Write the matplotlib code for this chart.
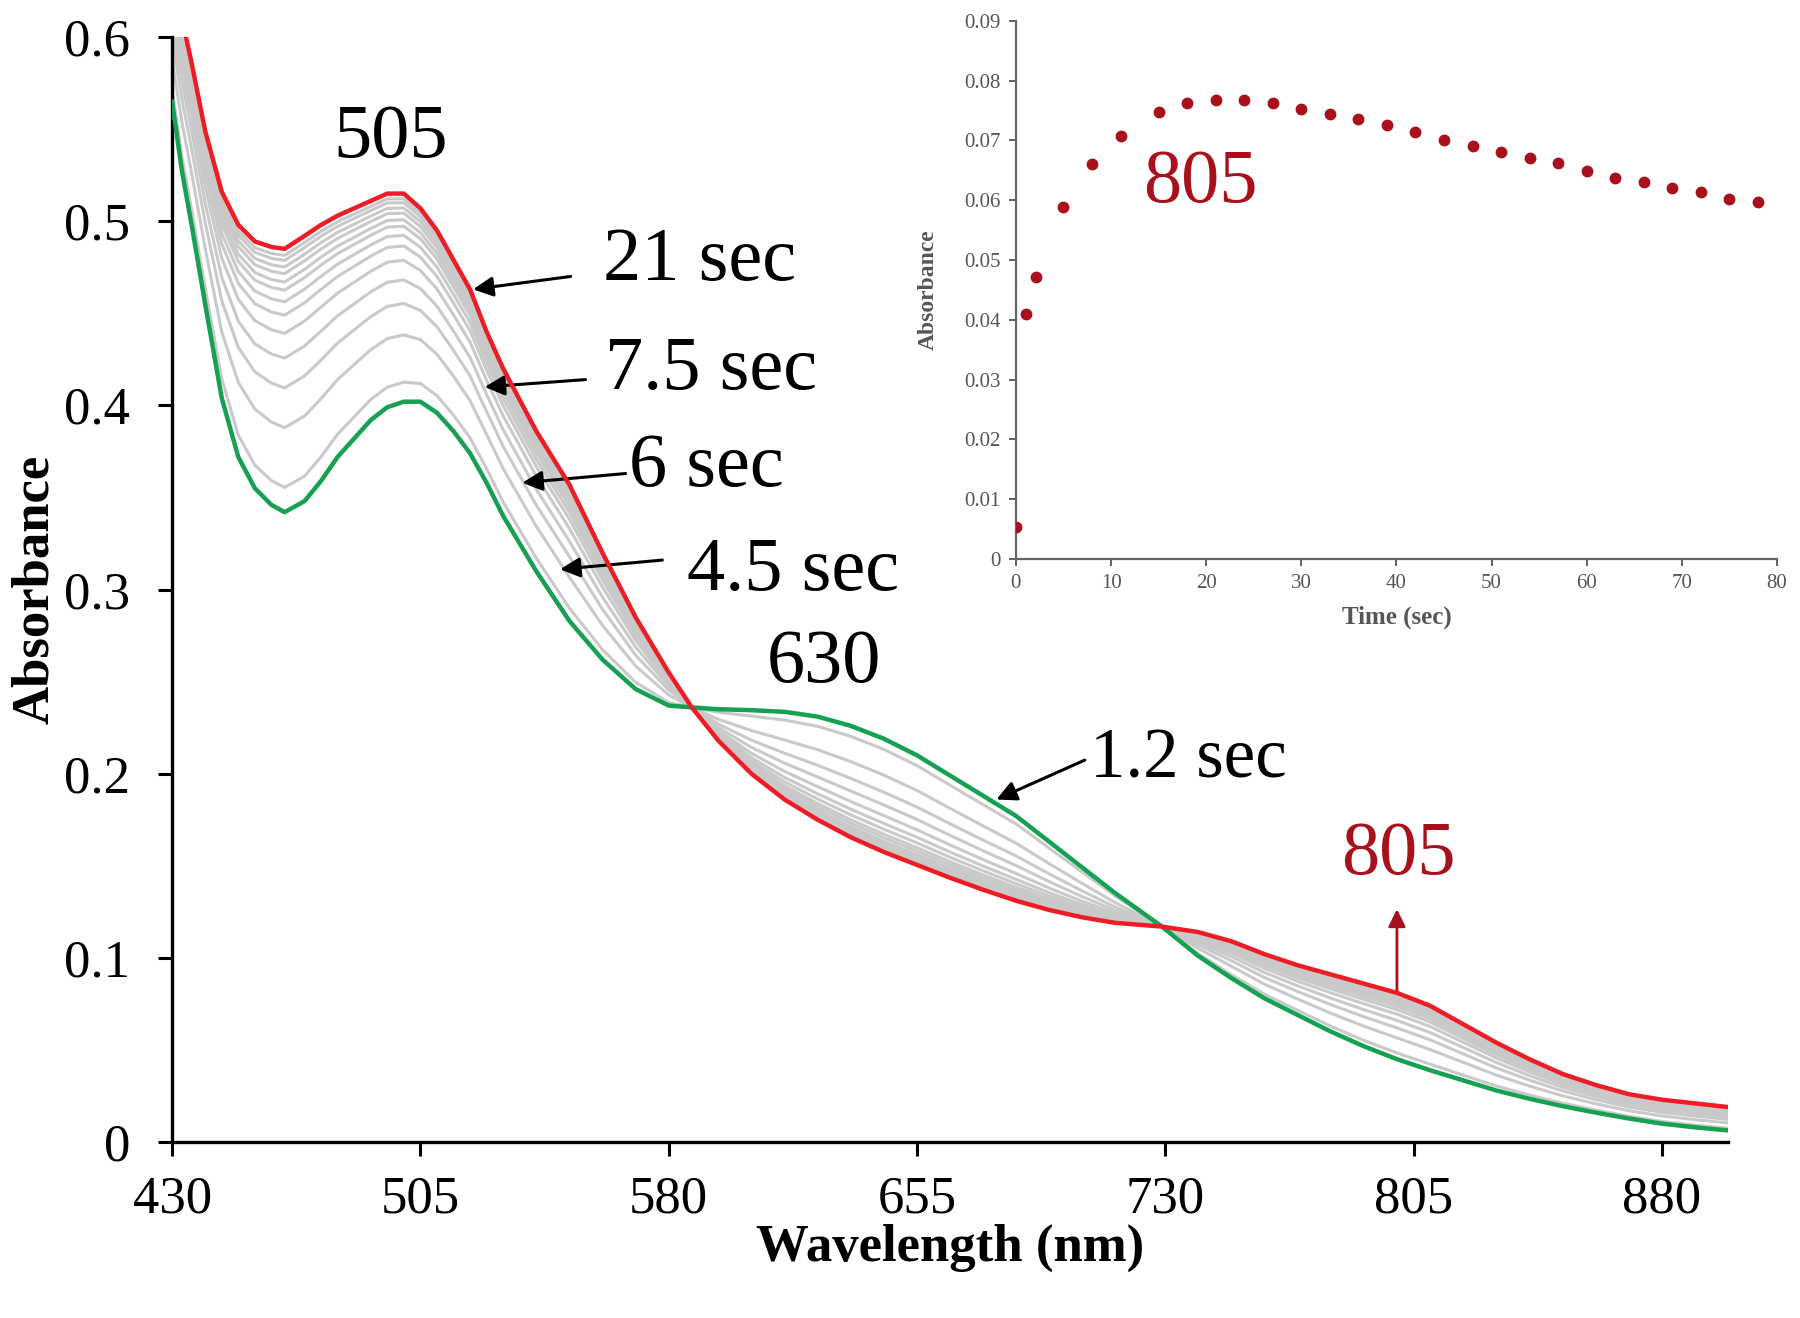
import numpy as np
import matplotlib
matplotlib.use("Agg")
import matplotlib.pyplot as plt

plt.rcParams['font.family'] = ['Liberation Serif', 'DejaVu Serif']

# Espectros (nm, absorbancia)
wavelength = [430, 433, 436, 440, 445, 450, 455, 460, 464, 470, 475, 480, 485, 490,
              495, 500, 505, 510, 515, 520, 525, 530, 540, 550, 560, 570, 580, 587,
              595, 605, 615, 625, 635, 645, 655, 665, 675, 685, 695, 705, 715, 729,
              740, 750, 760, 770, 780, 790, 800, 810, 820, 830, 840, 850, 860, 870,
              880, 890, 900]

# ultimo espectro (21 sec)
abs_red = [0.635, 0.610, 0.585, 0.549, 0.516, 0.498, 0.489, 0.486, 0.485, 0.492,
           0.498, 0.503, 0.507, 0.511, 0.515, 0.515, 0.507, 0.495, 0.479, 0.463,
           0.440, 0.420, 0.386, 0.357, 0.320, 0.285, 0.255, 0.236, 0.218, 0.200,
           0.186, 0.175, 0.1655, 0.1575, 0.1505, 0.1435, 0.137, 0.131, 0.126, 0.122,
           0.119, 0.117, 0.114, 0.109, 0.102, 0.096, 0.091, 0.086, 0.081, 0.074,
           0.064, 0.054, 0.045, 0.037, 0.031, 0.026, 0.023, 0.021, 0.019]

# primeiro espectro (1.2 sec)
abs_green = [0.565, 0.527, 0.497, 0.455, 0.404, 0.372, 0.355, 0.346, 0.342, 0.348,
             0.359, 0.372, 0.382, 0.392, 0.399, 0.402, 0.402, 0.396, 0.386, 0.374,
             0.358, 0.340, 0.310, 0.283, 0.262, 0.246, 0.237, 0.236, 0.235, 0.2345,
             0.2336, 0.231, 0.226, 0.219, 0.210, 0.199, 0.188, 0.177, 0.163, 0.149,
             0.135, 0.117, 0.101, 0.089, 0.078, 0.069, 0.060, 0.052, 0.045, 0.039,
             0.0335, 0.028, 0.0235, 0.0195, 0.016, 0.0128, 0.0100, 0.0080, 0.0063]

# posicao relativa das curvas cinzas entre verde e vermelho (lida no vale de 464 nm)
gray_fraction = [0.094, 0.321, 0.472, 0.585, 0.679, 0.748, 0.799, 0.843, 0.874,
                 0.906, 0.931, 0.956, 0.975]

# cinetica em 805 nm (inset)
time_sec = [0, 1.1, 2.1, 5, 8, 11, 15, 18, 21, 24, 27, 30, 33, 36, 39, 42, 45, 48,
            51, 54, 57, 60, 63, 66, 69, 72, 75, 78]
abs_805 = [0.0054, 0.0409, 0.0472, 0.0589, 0.0660, 0.0708, 0.0748, 0.0762, 0.0767,
           0.0768, 0.0763, 0.0753, 0.0744, 0.0736, 0.0726, 0.0714, 0.0701, 0.0690,
           0.0681, 0.0670, 0.0662, 0.0649, 0.0637, 0.0630, 0.0620, 0.0614, 0.0602,
           0.0597]

x_ticks = [430, 505, 580, 655, 730, 805, 880]
y_ticks = [0, 0.1, 0.2, 0.3, 0.4, 0.5, 0.6]

# rotulos com setas: (texto, ponta, cauda, posicao do texto)
time_labels = [
    ('21 sec', (520.9, 0.463), (550.4, 0.470), (560.1, 0.478)),
    ('7.5 sec', (524.4, 0.410), (554.9, 0.414), (560.8, 0.419)),
    ('6 sec', (535.8, 0.358), (567.0, 0.363), (568.0, 0.366)),
    ('4.5 sec', (547.2, 0.311), (578.1, 0.316), (585.4, 0.310)),
    ('1.2 sec', (679.0, 0.186), (705.7, 0.2074), (707.4, 0.2074)),
]

red = '#ee1c24'
green = '#15a052'
darkred = '#a8101c'

wl = np.array(wavelength)
r = np.array(abs_red)
g = np.array(abs_green)

fig = plt.figure(figsize=(18, 13.18), dpi=100)
ax = fig.add_axes([0.0956, 0.1335, 0.8644, 0.8384])

for f in gray_fraction:
    ax.plot(wl, g + f * (r - g), color='#c9c9c9', lw=2.2, zorder=1)
ax.plot(wl, g, color=green, lw=3.2, zorder=3)
ax.plot(wl, r, color=red, lw=3.2, zorder=4)

ax.set_xlim(430, 900)
ax.set_ylim(0, 0.6)
ax.set_xticks(x_ticks)
ax.set_yticks(y_ticks)
ax.set_yticklabels(['0'] + ['%.1f' % v for v in y_ticks[1:]])
ax.tick_params(direction='out', length=10, width=2.2, labelsize=38)
ax.tick_params(axis='x', pad=14)
ax.tick_params(axis='y', pad=20)
for side in ['top', 'right']:
    ax.spines[side].set_visible(False)
for side in ['left', 'bottom']:
    ax.spines[side].set_linewidth(2.4)
ax.set_xlabel('Wavelength (nm)', fontsize=38, fontweight='bold', labelpad=0)
ax.set_ylabel('Absorbance', fontsize=38, fontweight='bold', labelpad=4)

# anotacoes
ax.text(495.9, 0.545, '505', fontsize=55, ha='center', va='center')
ax.text(627, 0.260, '630', fontsize=55, ha='center', va='center')
for txt, tip, tail, pos in time_labels:
    ax.annotate('', xy=tip, xytext=tail,
                arrowprops=dict(arrowstyle='-|>', color='black', lw=2.2,
                                mutation_scale=30, shrinkA=0, shrinkB=0))
    size = 51 if txt == '1.2 sec' else 55
    ax.text(pos[0], pos[1], txt, fontsize=size, ha='left', va='center')

ax.annotate('', xy=(800, 0.1264), xytext=(800, 0.081),
            arrowprops=dict(arrowstyle='-|>', color=darkred, lw=2.0,
                            mutation_scale=26, shrinkA=0, shrinkB=0))
ax.text(800.3, 0.1557, '805', fontsize=55, color=darkred, ha='center', va='center')

# inset
axin = fig.add_axes([0.5644, 0.5759, 0.4228, 0.4084])
axin.plot(time_sec, abs_805, 'o', color=darkred, markersize=7.5, zorder=3)
axin.set_xlim(0, 80)
axin.set_ylim(0, 0.09)
axin.set_xticks(range(0, 81, 10))
axin.set_yticks(np.arange(0, 0.091, 0.01))
axin.set_yticklabels(['0'] + ['%.2f' % v for v in np.arange(0.01, 0.091, 0.01)])
axin.tick_params(direction='out', length=5, width=1.3, labelsize=15,
                 colors='#555555', pad=6)
for side in ['top', 'right']:
    axin.spines[side].set_visible(False)
for side in ['left', 'bottom']:
    axin.spines[side].set_color('#666666')
    axin.spines[side].set_linewidth(1.6)
axin.patch.set_alpha(0)
axin.set_xlabel('Time (sec)', fontsize=18, fontweight='bold', color='#555555', labelpad=9)
axin.set_ylabel('Absorbance', fontsize=17, fontweight='bold', color='#555555', labelpad=18)
axin.text(19.4, 0.0627, '805', fontsize=55, color=darkred, ha='center', va='center')

fig.savefig('out.png', dpi=100)
